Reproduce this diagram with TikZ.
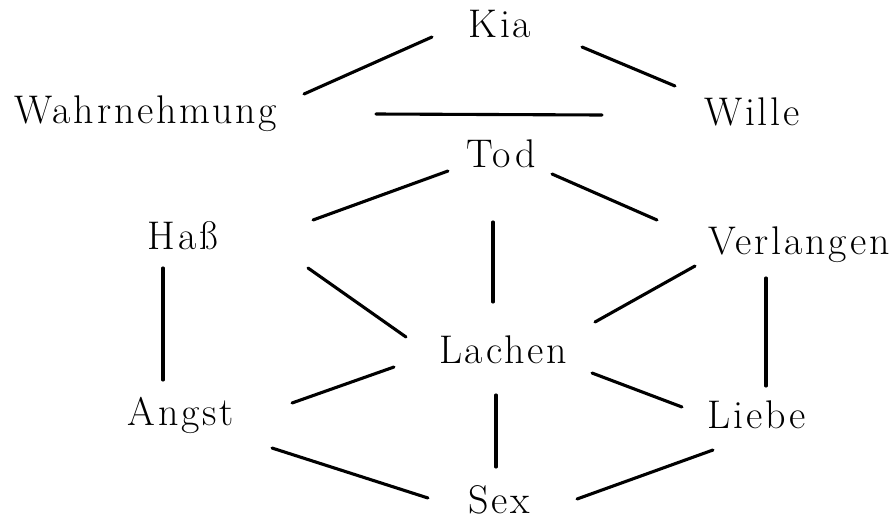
\documentclass[tikz,border=0pt]{standalone}
\usepackage{fontspec}
\setmainfont{Latin Modern Roman}[LetterSpace=7]
\begin{document}
\begin{tikzpicture}[x=1pt,y=-1pt,
  word/.style={inner sep=0pt,anchor=base,font=\fontsize{40}{42}\selectfont},
  link/.style={line width=3.1pt,line cap=round}]
\useasboundingbox[fill=white] (0,0) rectangle (893,523);
% words
\node[word] (kia)   at (500,37)  {Kia};
\node[word] (wahr)  at (146,123) {Wahrnehmung};
\node[word] (wille) at (752,125) {Wille};
\node[word] (tod)   at (501,167) {Tod};
\node[word] (hass)  at (183,249) {Haß};
\node[word] (verl)  at (799,254) {Verlangen};
\node[word] (lach)  at (503,363) {Lachen};
\node[word] (angst) at (181,425) {Angst};
\node[word] (liebe) at (757,428) {Liebe};
\node[word] (sex)   at (499,513) {Sex};
% connector ends
\coordinate (kia-wahr-a) at (304,94);  \coordinate (kia-wahr-b) at (432,37);
\coordinate (kia-wil-a)  at (582,47);  \coordinate (kia-wil-b)  at (675,86);
\coordinate (wahr-wil-a) at (376,114); \coordinate (wahr-wil-b) at (602,115);
\coordinate (tod-hass-a) at (448,171); \coordinate (tod-hass-b) at (313,220);
\coordinate (tod-verl-a) at (552,174); \coordinate (tod-verl-b) at (657,220);
\coordinate (tod-lach-a) at (493,222); \coordinate (tod-lach-b) at (493,302);
\coordinate (hass-lach-a) at (308,268); \coordinate (hass-lach-b) at (406,337);
\coordinate (verl-lach-a) at (695,266); \coordinate (verl-lach-b) at (595,322);
\coordinate (hass-ang-a) at (163,268); \coordinate (hass-ang-b) at (163,380);
\coordinate (verl-lie-a) at (766,278); \coordinate (verl-lie-b) at (766,386);
\coordinate (lach-ang-a) at (394,367); \coordinate (lach-ang-b) at (292,403);
\coordinate (lach-lie-a) at (592,373); \coordinate (lach-lie-b) at (682,407);
\coordinate (lach-sex-a) at (496,395); \coordinate (lach-sex-b) at (496,467);
\coordinate (ang-sex-a)  at (272,448); \coordinate (ang-sex-b)  at (428,498);
\coordinate (lie-sex-a)  at (713,450); \coordinate (lie-sex-b)  at (577,499);
% connectors
\draw[link] (kia-wahr-a) -- (kia-wahr-b);
\draw[link] (kia-wil-a) -- (kia-wil-b);
\draw[link] (wahr-wil-a) -- (wahr-wil-b);
\draw[link] (tod-hass-a) -- (tod-hass-b);
\draw[link] (tod-verl-a) -- (tod-verl-b);
\draw[link] (tod-lach-a) -- (tod-lach-b);
\draw[link] (hass-lach-a) -- (hass-lach-b);
\draw[link] (verl-lach-a) -- (verl-lach-b);
\draw[link] (hass-ang-a) -- (hass-ang-b);
\draw[link] (verl-lie-a) -- (verl-lie-b);
\draw[link] (lach-ang-a) -- (lach-ang-b);
\draw[link] (lach-lie-a) -- (lach-lie-b);
\draw[link] (lach-sex-a) -- (lach-sex-b);
\draw[link] (ang-sex-a) -- (ang-sex-b);
\draw[link] (lie-sex-a) -- (lie-sex-b);
\end{tikzpicture}
\end{document}
